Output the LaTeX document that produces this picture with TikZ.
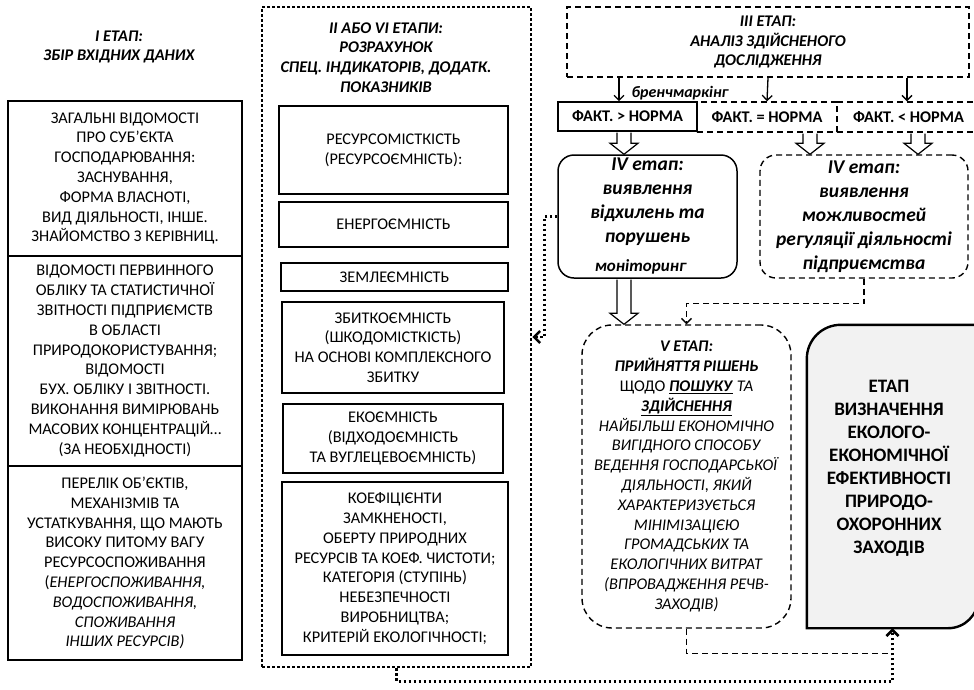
\documentclass[tikz,border=0pt]{standalone}
\usepackage{fontspec}
\setmainfont{Carlito}
\usetikzlibrary{arrows.meta,calc}
\definecolor{etapfill}{HTML}{F2F2F2}
\begin{document}
\begin{tikzpicture}[x=1pt,y=-1pt,
  sz/.style 2 args={minimum width=#1pt,minimum height=#2pt},
  txt/.style={font=\fontsize{16.3}{19.8}\selectfont, align=center, inner sep=0pt},
  ttl/.style={txt, font=\fontsize{16.3}{19.8}\selectfont\bfseries\itshape},
  ivfont/.style={font=\fontsize{19.5}{24}\selectfont\bfseries\itshape},
  solidbox/.style={txt, draw, line width=1.8pt},
  dashbox/.style={txt, draw, line width=1.4pt, dash pattern=on 6pt off 4pt},
  dotline/.style={line width=2.6pt, dash pattern=on 2.6pt off 2.4pt},
  dashline/.style={line width=1.4pt, dash pattern=on 6pt off 4pt},
  sarrow/.style={line width=1.3pt, -{Straight Barb[length=5pt,width=10pt]}},
  hollow/.style={draw, fill=white, line width=1.2pt,
    to path={let \p1=(\tikztostart), \p2=(\tikztotarget) in
      (\x1-7pt,\y1-0.8pt) -- (\x1-7pt,\y2+11pt) -- (\x1-14pt,\y2+11pt) -- (\x1,\y2)
      -- (\x1+14pt,\y2+11pt) -- (\x1+7pt,\y2+11pt) -- (\x1+7pt,\y1-0.8pt)}}
]
\clip (0,0) rectangle (974,689);
\fill[white] (0,0) rectangle (974,689);

% ---------- I stage ----------
\node[ttl] (t1) at (119,47) {І ЕТАП:\\ЗБІР ВХІДНИХ ДАНИХ};
\node[solidbox, sz={234}{155}] (b1) at (125,178.5)
 {ЗАГАЛЬНІ ВІДОМОСТІ\\ПРО СУБ’ЄКТА\\ГОСПОДАРЮВАННЯ:\\ЗАСНУВАННЯ,\\ФОРМА ВЛАСНОТІ,\\ВИД ДІЯЛЬНОСТІ, ІНШЕ.\\ЗНАЙОМСТВО З КЕРІВНИЦ.};
\node[solidbox, sz={234}{210}] (b2) at (125,361)
 {ВІДОМОСТІ ПЕРВИННОГО\\ОБЛІКУ ТА СТАТИСТИЧНОЇ\\ЗВІТНОСТІ ПІДПРИЄМСТВ\\В ОБЛАСТІ\\ПРИРОДОКОРИСТУВАННЯ;\\ВІДОМОСТІ\\БУХ. ОБЛІКУ І ЗВІТНОСТІ.\\ВИКОНАННЯ ВИМІРЮВАНЬ\\МАСОВИХ КОНЦЕНТРАЦІЙ…\\(ЗА НЕОБХІДНОСТІ)};
\node[solidbox, sz={234}{194}] (b3) at (125,563)
 {ПЕРЕЛІК ОБ’ЄКТІВ,\\МЕХАНІЗМІВ ТА\\УСТАТКУВАННЯ, ЩО МАЮТЬ\\ВИСОКУ ПИТОМУ ВАГУ\\РЕСУРСОСПОЖИВАННЯ\\(\textit{ЕНЕРГОСПОЖИВАННЯ,}\\\textit{ВОДОСПОЖИВАННЯ,}\\\textit{СПОЖИВАННЯ}\\\textit{ІНШИХ РЕСУРСІВ)}};

% ---------- II / VI stages ----------
\node[draw, dotline, sz={269}{660}] (mid) at (396.5,337) {};
\node[ttl] (t2) at (386,57.5) {ІІ АБО VІ ЕТАПИ:\\РОЗРАХУНОК\\СПЕЦ. ІНДИКАТОРІВ, ДОДАТК.\\ПОКАЗНИКІВ};
\node[solidbox, sz={229}{88}] (mA) at (393.5,150) {РЕСУРСОМІСТКІСТЬ\\(РЕСУРСОЄМНІСТЬ):};
\node[solidbox, sz={229}{45}] (mB) at (393.5,224.5) {ЕНЕРГОЄМНІСТЬ};
\node[solidbox, sz={227}{28}] (mC) at (394.5,277) {ЗЕМЛЕЄМНІСТЬ};
\node[solidbox, sz={222}{91}] (mD) at (393,347.5) {ЗБИТКОЄМНІСТЬ\\(ШКОДОМІСТКІСТЬ)\\НА ОСНОВІ КОМПЛЕКСНОГО\\ЗБИТКУ};
\node[solidbox, sz={220}{69}] (mE) at (393,438.5) {ЕКОЄМНІСТЬ\\(ВІДХОДОЄМНІСТЬ\\ТА ВУГЛЕЦЕВОЄМНІСТЬ)};
\node[solidbox, sz={226}{173}] (mF) at (395,568.5) {КОЕФІЦІЄНТИ\\ЗАМКНЕНОСТІ,\\ОБЕРТУ ПРИРОДНИХ\\РЕСУРСІВ ТА КОЕФ. ЧИСТОТИ;\\КАТЕГОРІЯ (СТУПІНЬ)\\НЕБЕЗПЕЧНОСТІ\\ВИРОБНИЦТВА;\\КРИТЕРІЙ ЕКОЛОГІЧНОСТІ;};

% ---------- III stage ----------
\node[dashbox, sz={402}{70}, font=\fontsize{16.3}{19.2}\selectfont\bfseries\itshape] (iii) at (768,42) {III ЕТАП:\\АНАЛІЗ ЗДІЙСНЕНОГО\\ДОСЛІДЖЕННЯ};
\node[dashbox, sz={140}{30}, font=\fontsize{16.3}{19.8}\selectfont\bfseries] (feq) at (767,117) {ФАКТ. = НОРМА};
\node[dashbox, sz={143}{30}, font=\fontsize{16.3}{19.8}\selectfont\bfseries] (fl) at (908.5,117) {ФАКТ. < НОРМА};
\node[solidbox, line width=1.6pt, sz={139}{29}, font=\fontsize{16.3}{19.8}\selectfont\bfseries] (fgt) at (627.5,116.5) {ФАКТ. > НОРМА};
\node[inner sep=0pt, font=\fontsize{16}{18}\selectfont\bfseries\itshape] (bm) at (680,93) {бренчмаркінг};

\coordinate (a1) at ([xshift=-149pt]iii.south);
\coordinate (a3) at ([xshift=139pt]iii.south);
\draw[sarrow] (a1) -- (a1 |- fgt.north);
\draw[sarrow] (iii.south) -- (feq.north);
\draw[sarrow] (a3) -- (a3 |- fl.north);

% ---------- IV stages ----------
\node[draw, line width=1.5pt, rounded corners=16pt, sz={179}{123}, align=center, inner sep=0pt, ivfont] (iv1) at (647.5,216.5)
 {IV етап:\\виявлення\\відхилень та\\порушень\\[5pt]\hspace*{-14pt}{\fontsize{17}{18}\selectfont моніторинг}};
\node[dashbox, rounded corners=16pt, sz={208}{123}, ivfont] (iv2) at (864,216.5)
 {IV етап:\\виявлення\\можливостей\\регуляції діяльності\\підприємства};

\coordinate (h1) at ([xshift=-3.5pt]fgt.south);
\coordinate (h2) at ([xshift=43pt]feq.south);
\coordinate (h3) at ([xshift=9.5pt]fl.south);
\draw[hollow] (h1) to (iv1.north);
\draw[hollow] (h2) to (iv2.north);
\draw[hollow] (h3) to (iv2.north);

% ---------- V stage ----------
\node[dashbox, rounded corners=30pt, sz={209}{303}] (v) at (686.5,476.5)
 {\textbf{\textit{V ЕТАП:}}\\\textbf{\textit{ПРИЙНЯТТЯ РІШЕНЬ}}\\ЩОДО \underline{\textbf{\textit{ПОШУКУ}}} \textit{ТА}\\\underline{\textbf{\textit{ЗДІЙСНЕННЯ}}}\\\textit{НАЙБІЛЬШ ЕКОНОМІЧНО}\\\textit{ВИГІДНОГО СПОСОБУ}\\\textit{ВЕДЕННЯ ГОСПОДАРСЬКОЇ}\\\textit{ДІЯЛЬНОСТІ, ЯКИЙ}\\\textit{ХАРАКТЕРИЗУЄТЬСЯ}\\\textit{МІНІМІЗАЦІЄЮ}\\\textit{ГРОМАДСЬКИХ ТА}\\\textit{ЕКОЛОГІЧНИХ ВИТРАТ}\\\textit{(ВПРОВАДЖЕННЯ РЕЧВ-}\\\textit{ЗАХОДІВ)}};
\coordinate (h4) at ([xshift=-23.5pt]iv1.south);
\draw[hollow] (h4) to (v.north);

% ---------- final stage ----------
\node[sz={171}{303}, inner sep=0pt] (etap) at (892.5,476.5) {};
\draw[line width=2.4pt, fill=etapfill] (etap.south west) -- ([yshift=-34pt]etap.north west)
  to[out=90,in=180] ([xshift=34pt]etap.north west) -- (etap.north east)
  -- ([yshift=30pt]etap.south east) to[out=-90,in=0] ([xshift=-30pt]etap.south east) -- cycle;
\node[align=center, inner sep=0pt, font=\fontsize{19}{23}\selectfont\bfseries] (etapt) at (889,468.5)
 {ЕТАП\\ВИЗНАЧЕННЯ\\ЕКОЛОГО-\\ЕКОНОМІЧНОЇ\\ЕФЕКТИВНОСТІ\\ПРИРОДО-\\ОХОРОННИХ\\ЗАХОДІВ};

% ---------- connectors ----------
\draw[dotline, -{Straight Barb[length=6pt,width=12pt]}] (iv1.west) -- ++(-13,0) |- (mid.east);
\draw[dashline, -{Straight Barb[length=5pt,width=10pt]}] (iv2.south) -- ++(0,25) -| (v.north);
\draw[dashline] (v.south) |- ($(etap.south)+(0,25)$);
\draw[dotline, -{Straight Barb[length=6pt,width=12pt]}] (mid.south) -- ++(0,13) -| (etap.south);
\end{tikzpicture}
\end{document}
